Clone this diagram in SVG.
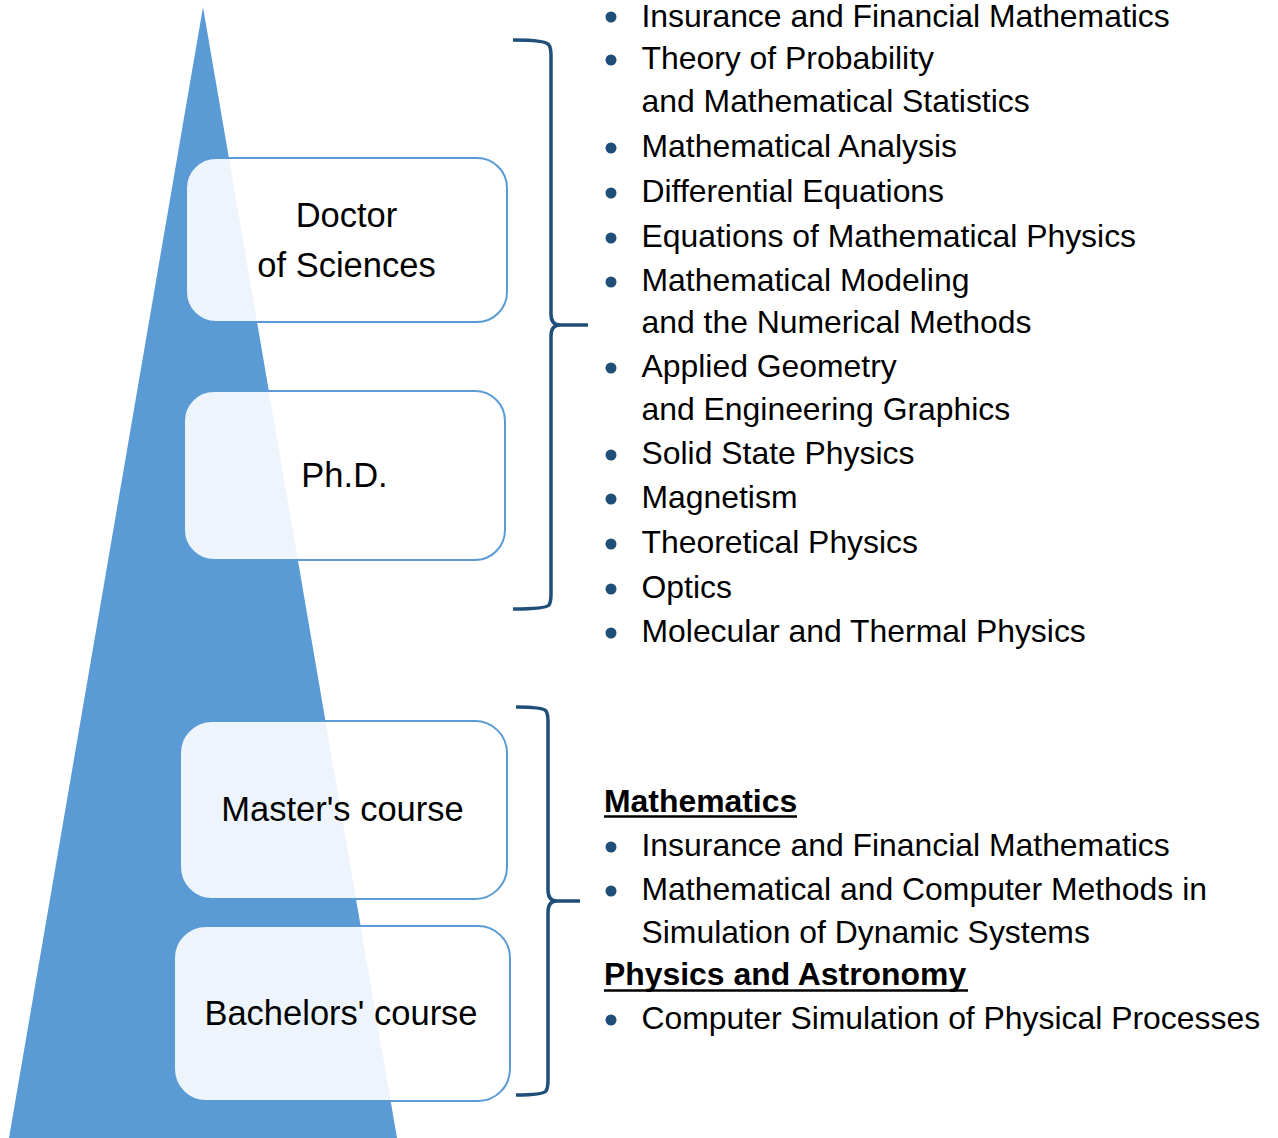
<svg xmlns="http://www.w3.org/2000/svg" width="1278" height="1138" viewBox="0 0 1278 1138">
<style>
.box{fill:#ffffff;fill-opacity:0.89;stroke:#5B9BD5;stroke-width:2}
.bt{font-family:"Liberation Sans",Arial,sans-serif;font-size:34.5px;fill:#000;text-anchor:middle}
.lt{font-family:"Liberation Sans",Arial,sans-serif;font-size:31.9px;fill:#000}
.hd{font-family:"Liberation Sans",Arial,sans-serif;font-size:31.9px;font-weight:bold;fill:#000}
.brace{fill:none;stroke:#1F4E79;stroke-width:3.5;stroke-linejoin:round}
.bul{fill:#1F4E79}
.ul{stroke:#000;stroke-width:2.5}
</style>
<rect width="1278" height="1138" fill="#ffffff"/>
<g id="pyramid">
<polygon points="203,7 397,1138 9,1138" fill="#5B9BD5"/>
</g>
<g id="node-doctor">
<rect class="box" x="186" y="158" width="321" height="164" rx="30"/>
<text class="bt" x="346.5" y="227">Doctor</text>
<text class="bt" x="346.5" y="277">of Sciences</text>
</g>
<g id="node-phd">
<rect class="box" x="184" y="391" width="321" height="169" rx="30"/>
<text class="bt" x="344.5" y="487">Ph.D.</text>
</g>
<g id="node-master">
<rect class="box" x="180" y="721" width="327" height="178" rx="32"/>
<text class="bt" x="342.5" y="821">Master's course</text>
</g>
<g id="node-bachelor">
<rect class="box" x="174" y="926" width="336" height="175" rx="32"/>
<text class="bt" x="341" y="1025">Bachelors' course</text>
</g>
<g id="connectors">
<path class="brace" d="M513,40 Q546,40 549,45 Q551,48 551,56 L551,314 Q551,325 560,325 L588,325 M560,325 Q551,325 551,336 L551,594 Q551,602 549,605 Q546,609 513,609"/>
<path class="brace" d="M516,707 Q543,707 546,711 Q548,714 548,722 L548,890 Q548,901 557,901 L580,901 M557,901 Q548,901 548,912 L548,1080 Q548,1088 546,1091 Q543,1095 516,1095"/>
</g>
<g id="list-upper">
<circle class="bul" cx="611" cy="17" r="5.5"/>
<text class="lt" x="641.5" y="27">Insurance and Financial Mathematics</text>
<circle class="bul" cx="611" cy="60" r="5.5"/>
<text class="lt" x="641.5" y="69">Theory of Probability</text>
<text class="lt" x="641.5" y="112">and Mathematical Statistics</text>
<circle class="bul" cx="611" cy="148" r="5.5"/>
<text class="lt" x="641.5" y="157">Mathematical Analysis</text>
<circle class="bul" cx="611" cy="193" r="5.5"/>
<text class="lt" x="641.5" y="202">Differential Equations</text>
<circle class="bul" cx="611" cy="238" r="5.5"/>
<text class="lt" x="641.5" y="247">Equations of Mathematical Physics</text>
<circle class="bul" cx="611" cy="282" r="5.5"/>
<text class="lt" x="641.5" y="291">Mathematical Modeling</text>
<text class="lt" x="641.5" y="333">and the Numerical Methods</text>
<circle class="bul" cx="611" cy="368" r="5.5"/>
<text class="lt" x="641.5" y="377">Applied Geometry</text>
<text class="lt" x="641.5" y="420">and Engineering Graphics</text>
<circle class="bul" cx="611" cy="455" r="5.5"/>
<text class="lt" x="641.5" y="464">Solid State Physics</text>
<circle class="bul" cx="611" cy="499" r="5.5"/>
<text class="lt" x="641.5" y="508">Magnetism</text>
<circle class="bul" cx="611" cy="544" r="5.5"/>
<text class="lt" x="641.5" y="553">Theoretical Physics</text>
<circle class="bul" cx="611" cy="589" r="5.5"/>
<text class="lt" x="641.5" y="598">Optics</text>
<circle class="bul" cx="611" cy="633" r="5.5"/>
<text class="lt" x="641.5" y="642">Molecular and Thermal Physics</text>
</g>
<g id="list-lower">
<text class="hd" x="604" y="812">Mathematics</text>
<line class="ul" x1="604" y1="816.5" x2="797" y2="816.5"/>
<circle class="bul" cx="611" cy="847" r="5.5"/>
<text class="lt" x="641.5" y="856">Insurance and Financial Mathematics</text>
<circle class="bul" cx="611" cy="891" r="5.5"/>
<text class="lt" x="641.5" y="900">Mathematical and Computer Methods in</text>
<text class="lt" x="641.5" y="943">Simulation of Dynamic Systems</text>
<text class="hd" x="604" y="985">Physics and Astronomy</text>
<line class="ul" x1="604" y1="990.5" x2="968" y2="990.5"/>
<circle class="bul" cx="611" cy="1020" r="5.5"/>
<text class="lt" x="641.5" y="1029">Computer Simulation of Physical Processes</text>
</g>
</svg>
